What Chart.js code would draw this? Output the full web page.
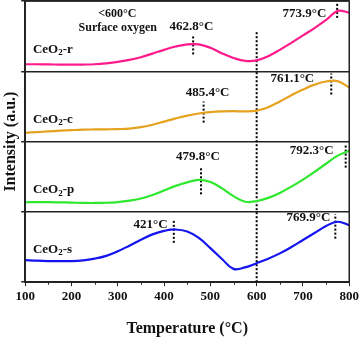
<!DOCTYPE html>
<html>
<head>
<meta charset="utf-8">
<script src="https://cdn.jsdelivr.net/npm/chart.js@4/dist/chart.umd.min.js"></script>
<style>
  body { margin: 0; background: #fff; }
</style>
</head>
<body>
<canvas id="TprChart" width="362" height="338"></canvas>
<script>
// temperatures (°C) shared by all four traces
const temps = [100, 125, 150, 175, 200, 225, 250, 275, 300, 325, 350, 375, 400, 425, 450,
  475, 500, 525, 550, 575, 600, 625, 650, 675, 700, 725, 750, 775, 800];

// normalised intensity of each trace inside its own panel (0 = panel bottom, 1 = panel top)
const ceo2R = [0.10, 0.10, 0.098, 0.096, 0.095, 0.096, 0.10, 0.113, 0.133, 0.162, 0.20, 0.252, 0.305, 0.352, 0.383,
  0.383, 0.335, 0.255, 0.19, 0.148, 0.155, 0.215, 0.305, 0.405, 0.51, 0.615, 0.73, 0.86, 0.835];
const ceo2C = [0.125, 0.135, 0.145, 0.155, 0.163, 0.17, 0.173, 0.175, 0.178, 0.185, 0.205, 0.24, 0.285, 0.33, 0.37,
  0.40, 0.42, 0.43, 0.433, 0.43, 0.44, 0.49, 0.57, 0.66, 0.74, 0.81, 0.855, 0.86, 0.77];
const ceo2P = [0.137, 0.139, 0.139, 0.136, 0.132, 0.128, 0.127, 0.13, 0.14, 0.16, 0.19, 0.24, 0.305, 0.37, 0.42,
  0.455, 0.425, 0.335, 0.225, 0.145, 0.155, 0.20, 0.27, 0.36, 0.46, 0.57, 0.685, 0.80, 0.87];
const ceo2S = [0.315, 0.306, 0.301, 0.30, 0.30, 0.31, 0.335, 0.375, 0.44, 0.52, 0.605, 0.68, 0.73, 0.75, 0.72,
  0.63, 0.485, 0.33, 0.19, 0.21, 0.27, 0.335, 0.41, 0.50, 0.60, 0.70, 0.80, 0.86, 0.81];

const sampleNames = ["r", "c", "p", "s"];
const sampleColors = ["#ff1a8c", "#e6a21e", "#2ee82e", "#1414f0"];
const sampleValues = [ceo2R, ceo2C, ceo2P, ceo2S];
const panelOffsets = [3, 2, 1, 0];

// reduction peak temperatures per sample (low, high)
const peakTemps = [[462.8, 773.9], [485.4, 761.1], [479.8, 792.3], [421, 769.9]];
// vertical extent of the dotted peak markers, within the panel
const peakSpans = [
  [[0.24, 0.52], [0.76, 0.97]],
  [[0.27, 0.57], [0.67, 0.97]],
  [[0.25, 0.63], [0.63, 0.96]],
  [[0.56, 0.90], [0.62, 0.97]],
];
// peak label anchors: [temperature, height in panel]
const peakLabelPos = [
  [[459, 0.634], [703, 0.817]],
  [[494, 0.70], [677, 0.897]],
  [[473, 0.785], [719, 0.877]],
  [[371, 0.821], [712, 0.915]],
];
const sampleLabelY = [0.31, 0.314, 0.314, 0.469];

const serif = "'Liberation Serif', 'Times New Roman', serif";

const datasets = [];
sampleValues.forEach((vals, i) => {
  datasets.push({
    data: temps.map((t, k) => ({ x: t, y: vals[k] + panelOffsets[i] })),
    borderColor: sampleColors[i],
    borderWidth: 2.2,
    pointRadius: 0,
    tension: 0.4,
  });
  peakTemps[i].forEach((t, j) => {
    const span = peakSpans[i][j];
    datasets.push({
      data: [{ x: t, y: span[0] + panelOffsets[i] }, { x: t, y: span[1] + panelOffsets[i] }],
      borderColor: "#000",
      borderWidth: 2,
      borderDash: [2, 2],
      pointRadius: 0,
    });
  });
});

// 600 °C divider between surface and bulk oxygen
datasets.push({
  data: [{ x: 600, y: 0 }, { x: 600, y: 3.56 }],
  borderColor: "#000",
  borderWidth: 2,
  borderDash: [2, 2],
  pointRadius: 0,
});

const textLayer = {
  id: "textLayer",
  afterDraw(chart) {
    const { ctx, chartArea: a, scales: { x, y } } = chart;
    ctx.save();

    // frame round the plot
    ctx.strokeStyle = "#222";
    ctx.lineWidth = 1.5;
    ctx.strokeRect(a.left, a.top, a.right - a.left, a.bottom - a.top);

    // minor ticks on the temperature axis
    ctx.lineWidth = 1;
    for (let t = 150; t < 800; t += 100) {
      const px = Math.round(x.getPixelForValue(t)) + 0.5;
      ctx.beginPath();
      ctx.moveTo(px, a.bottom);
      ctx.lineTo(px, a.bottom + 2.5);
      ctx.stroke();
    }

    ctx.fillStyle = "#111";
    ctx.textBaseline = "middle";

    // peak temperature labels
    ctx.font = "bold 13px " + serif;
    ctx.textAlign = "center";
    peakLabelPos.forEach((pair, i) => {
      pair.forEach((p, j) => {
        const label = (peakTemps[i][j] + "°C");
        ctx.fillText(label, x.getPixelForValue(p[0]), y.getPixelForValue(p[1] + panelOffsets[i]));
      });
    });

    // note in the top panel
    ctx.font = "bold 12px " + serif;
    ctx.fillText("<600°C", x.getPixelForValue(299), y.getPixelForValue(3.817));
    ctx.fillText("Surface oxygen", x.getPixelForValue(300), y.getPixelForValue(3.62));

    // sample names with subscript 2
    ctx.textAlign = "left";
    sampleNames.forEach((name, i) => {
      let px = x.getPixelForValue(116.6);
      const py = y.getPixelForValue(sampleLabelY[i] + panelOffsets[i]);
      ctx.font = "bold 13px " + serif;
      ctx.fillText("CeO", px, py);
      px += ctx.measureText("CeO").width;
      ctx.font = "bold 9px " + serif;
      ctx.fillText("2", px, py + 3.5);
      px += ctx.measureText("2").width;
      ctx.font = "bold 13px " + serif;
      ctx.fillText("-" + name, px, py);
    });

    ctx.restore();
  },
};

new Chart(document.getElementById("TprChart").getContext("2d"), {
  type: "line",
  data: { datasets },
  options: {
    responsive: false,
    animation: false,
    events: [],
    layout: { padding: { top: 1, right: 12, left: 0, bottom: 0 } },
    plugins: { legend: { display: false }, tooltip: { enabled: false } },
    scales: {
      x: {
        type: "linear",
        min: 100,
        max: 800,
        ticks: { stepSize: 100, color: "#111", padding: 3, font: { family: serif, size: 13, weight: "bold" } },
        grid: { drawOnChartArea: false, tickLength: 4, color: "#222" },
        border: { color: "#222", width: 1.5 },
        title: {
          display: true,
          text: "Temperature (°C)",
          color: "#111",
          padding: { top: 11, bottom: 0 },
          font: { family: serif, size: 16, weight: "bold" },
        },
      },
      y: {
        min: 0,
        max: 4,
        ticks: { stepSize: 1, display: false },
        grid: { color: "#222", lineWidth: 1.5, tickLength: 4, drawTicks: true },
        border: { color: "#222", width: 1.5 },
        title: {
          display: true,
          text: "Intensity (a.u.)",
          color: "#111",
          padding: { top: 1, bottom: 1 },
          font: { family: serif, size: 16, weight: "bold" },
        },
      },
    },
  },
  plugins: [textLayer],
});
</script>
</body>
</html>
